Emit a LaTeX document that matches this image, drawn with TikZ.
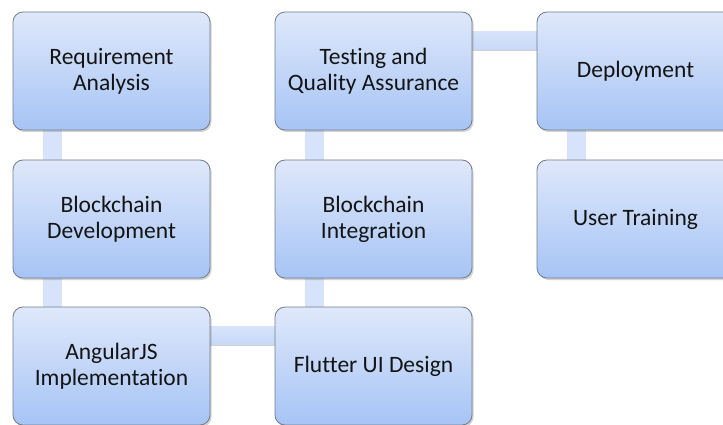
\documentclass[tikz,border=0pt]{standalone}
\usepackage{fontspec}
\setmainfont{Carlito}[Ligatures=NoCommon]
\usetikzlibrary{shadows}
\pgfdeclarelayer{background}
\pgfsetlayers{background,main}
\definecolor{boxtop}{RGB}{223,232,251}
\definecolor{boxbot}{RGB}{166,196,245}
\definecolor{boxline}{RGB}{115,125,140}
\definecolor{conntop}{RGB}{215,227,250}
\definecolor{connbot}{RGB}{200,216,246}
\definecolor{txt}{RGB}{20,20,20}
\tikzset{
  stagebox/.style={draw=boxline, line width=0.8pt, rounded corners=10pt,
    top color=boxtop, bottom color=boxbot, minimum width=197pt, minimum height=118pt,
    align=center, font=\fontsize{23.5}{26}\selectfont, text=txt,
    drop shadow={shadow xshift=1.5pt, shadow yshift=-2pt, opacity=0.35}},
  vconn/.style={fill=conntop},
  hconn/.style={top color=conntop, bottom color=connbot,
    drop shadow={shadow xshift=0pt, shadow yshift=-1.5pt, opacity=0.35}},
}
\begin{document}
\begin{tikzpicture}[x=1pt,y=1pt]
\useasboundingbox (0,0) rectangle (723,-425);
\begin{scope}
\clip (0,0) rectangle (723,-425);
% boxes
\node[stagebox] (a) at (111.5,-71) {Requirement\\Analysis};
\node[stagebox] (b) at (111.5,-219) {Blockchain\\Development};
\node[stagebox] (c) at (111.5,-366) {AngularJS\\Implementation};
\node[stagebox] (d) at (373.5,-366) {Flutter UI Design};
\node[stagebox] (e) at (373.5,-219) {Blockchain\\Integration};
\node[stagebox] (f) at (373.5,-71) {Testing and\\Quality Assurance};
\node[stagebox] (g) at (635.5,-71) {Deployment};
\node[stagebox] (h) at (635.5,-219) {User Training};
% connectors, under the boxes
\begin{pgfonlayer}{background}
\fill[white] (0,0) rectangle (723,-425);
\fill[vconn] ([xshift=30pt,yshift=2pt]a.south west) rectangle ([xshift=49pt,yshift=-2pt]b.north west);
\fill[vconn] ([xshift=30pt,yshift=2pt]b.south west) rectangle ([xshift=49pt,yshift=-2pt]c.north west);
\fill[hconn] ([xshift=-2pt,yshift=-20pt]c.north east) rectangle ([xshift=2pt,yshift=-38pt]d.north west);
\fill[vconn] ([xshift=30pt,yshift=-2pt]d.north west) rectangle ([xshift=49pt,yshift=2pt]e.south west);
\fill[vconn] ([xshift=30pt,yshift=-2pt]e.north west) rectangle ([xshift=49pt,yshift=2pt]f.south west);
\fill[hconn] ([xshift=-2pt,yshift=-20pt]f.north east) rectangle ([xshift=2pt,yshift=-38pt]g.north west);
\fill[vconn] ([xshift=30pt,yshift=2pt]g.south west) rectangle ([xshift=49pt,yshift=-2pt]h.north west);
\end{pgfonlayer}
\end{scope}
\end{tikzpicture}
\end{document}
